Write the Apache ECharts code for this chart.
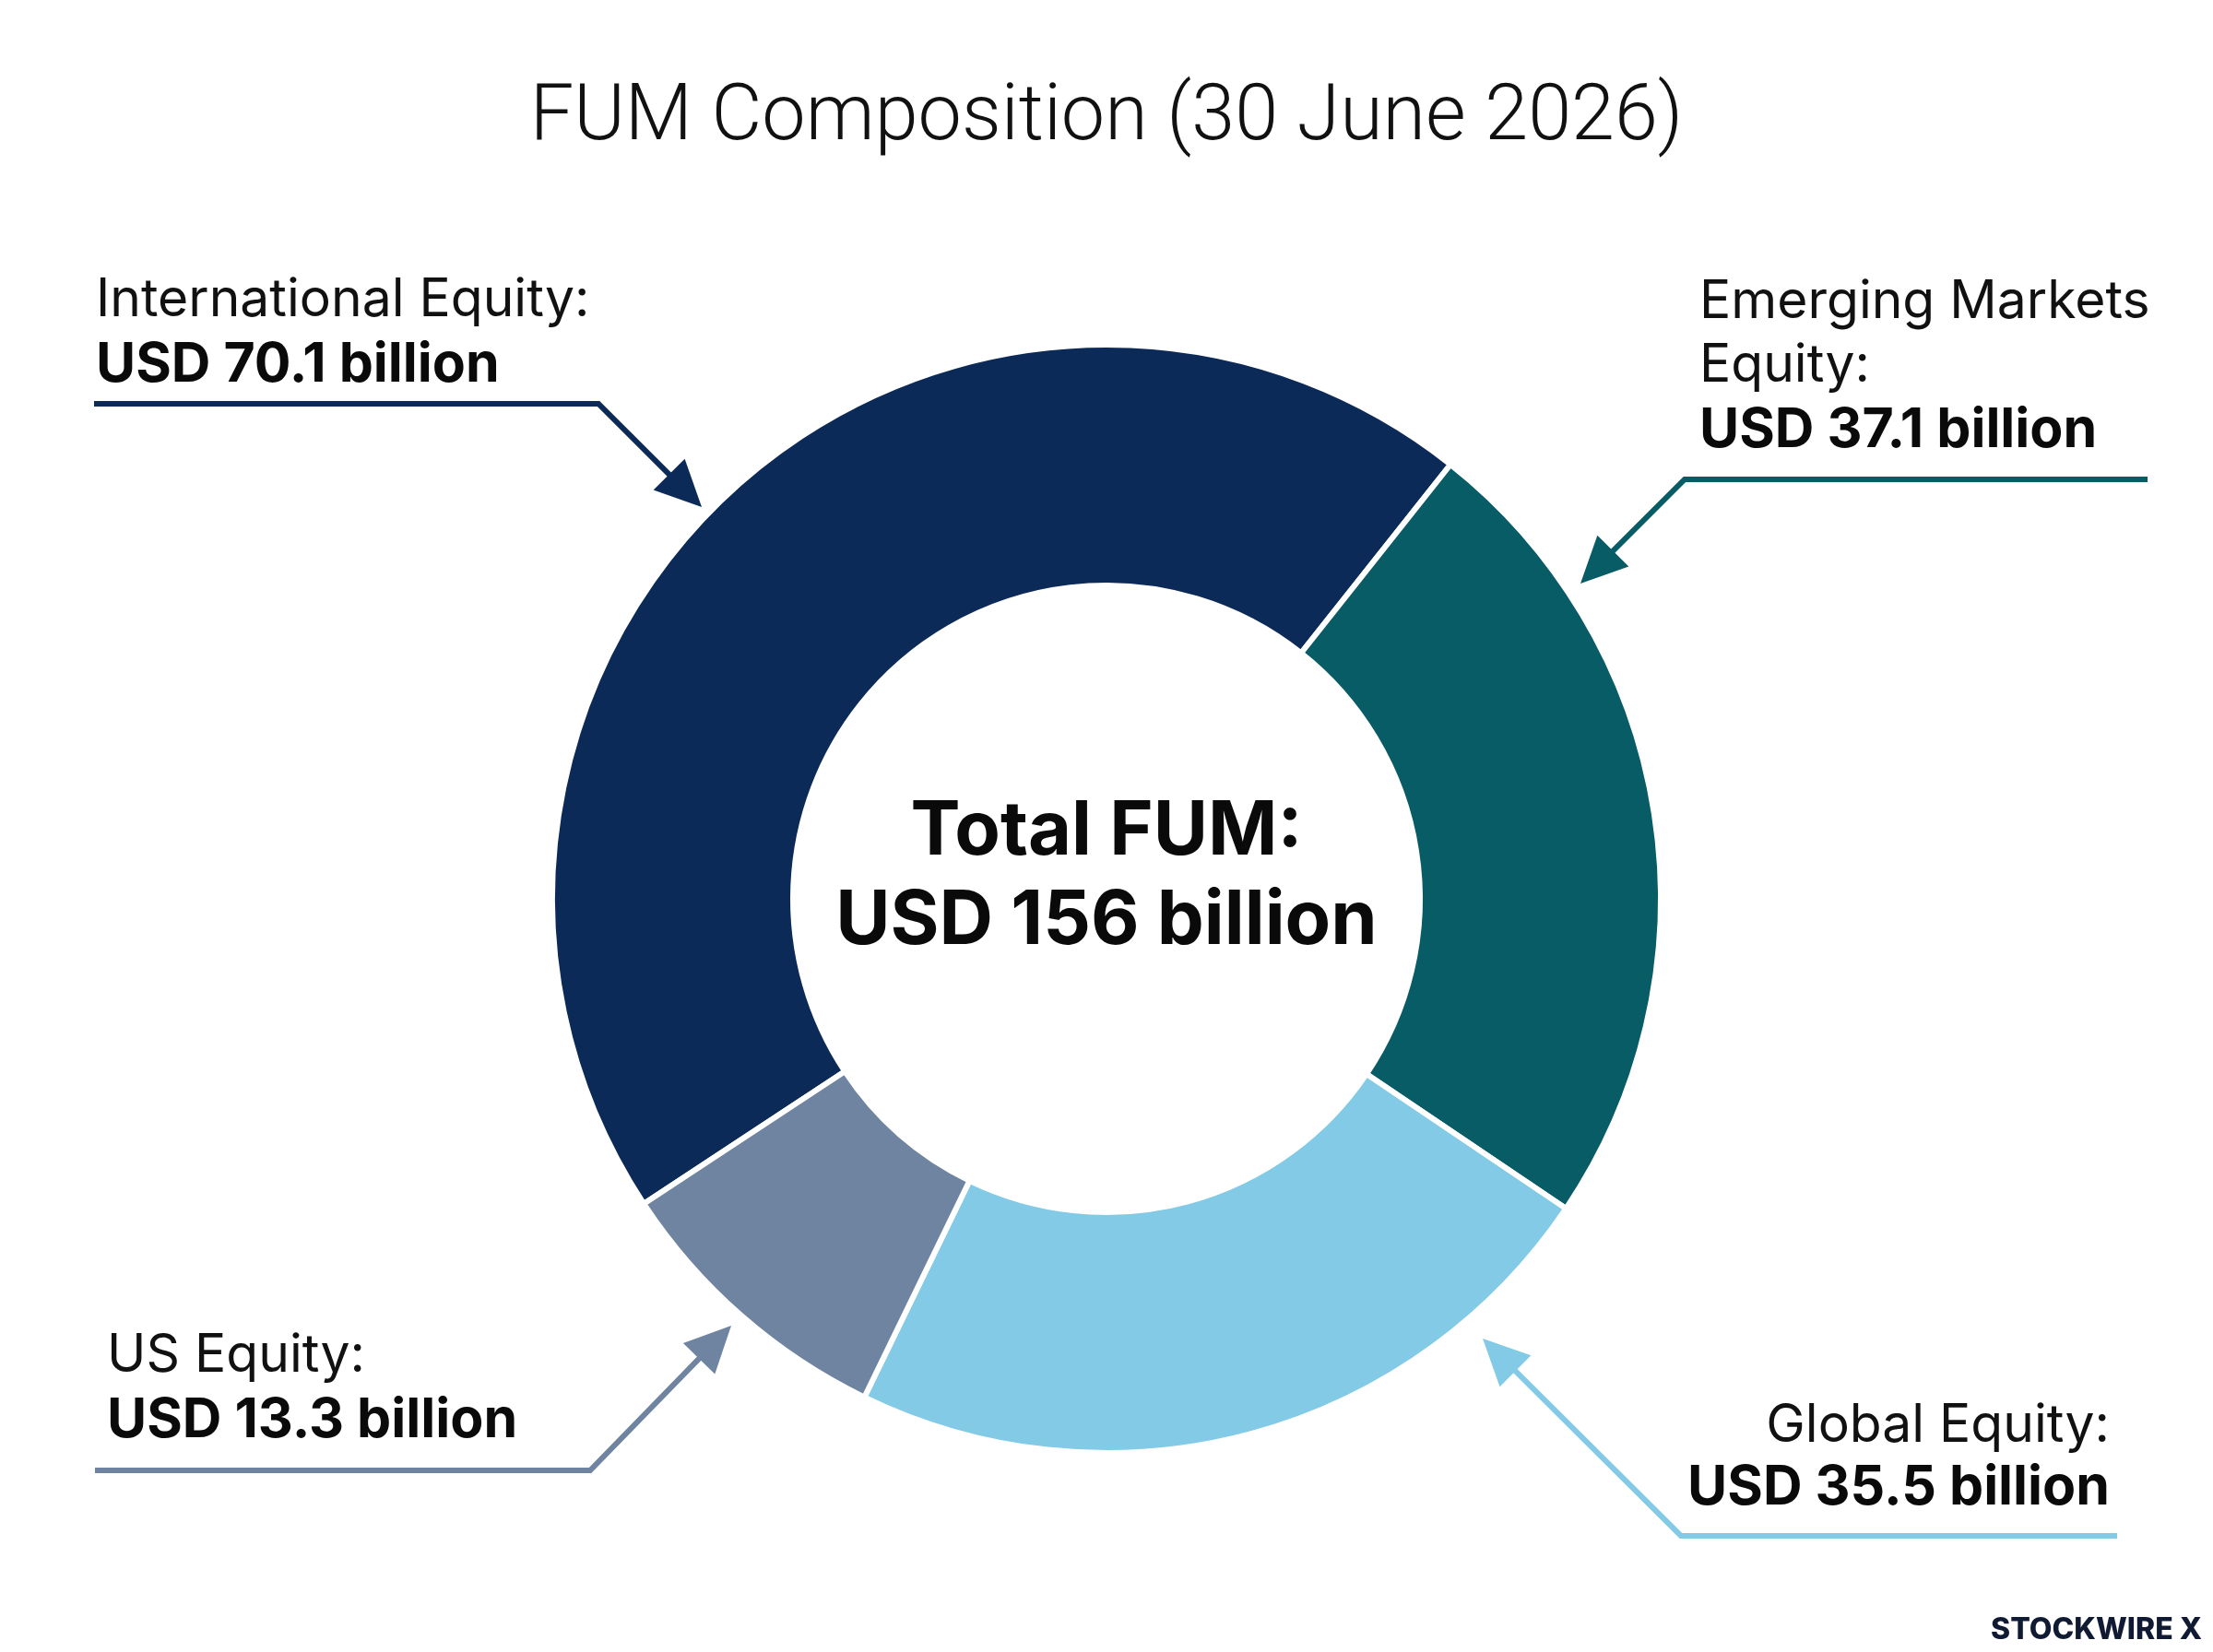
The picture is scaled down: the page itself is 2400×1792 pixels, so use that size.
<!DOCTYPE html>
<html>
<head>
<meta charset="utf-8">
<script src="https://cdn.jsdelivr.net/npm/echarts@6/dist/echarts.min.js"></script>
<style>
  html, body { margin: 0; padding: 0; background: #ffffff; }
  #chart { width: 2400px; height: 1792px; }
</style>
</head>
<body>
<div id="chart"></div>
<script>
// ---- Data ----
const categories = ['International Equity', 'Emerging Markets Equity', 'Global Equity', 'US Equity'];
const values = [70.1, 37.1, 35.5, 13.3];           // USD billion
const labelHeads = [['International Equity:'], ['Emerging Markets', 'Equity:'], ['Global Equity:'], ['US Equity:']];
const titleText = 'FUM Composition (30 June 2026)';
const watermark = 'STOCKWIRE X';

// ---- Styles ----
const colors = ['#0C2A58', '#085C66', '#82CAE6', '#6F84A0'];
const FONT = 'Inter, "Noto Sans", sans-serif';

const total = values.reduce((a, b) => a + b, 0);
const fmt = v => 'USD ' + v.toFixed(1) + ' billion';

// annotation layout (position of each callout)
const callouts = [
  { x: 104, align: 'left', ys: [326, 396], path: [[102, 438], [649, 438], [761, 550]] },
  { x: 1843, align: 'left', ys: [328, 397, 467], path: [[2329, 520], [1827, 520], [1714, 633]] },
  { x: 2288, align: 'right', ys: [1547, 1614], path: [[2296, 1666], [1823, 1666], [1608, 1452]] },
  { x: 116, align: 'left', ys: [1471, 1541], path: [[103, 1595], [640, 1595], [793, 1438]] }
];

const graphics = [];
callouts.forEach((c, i) => {
  const lines = labelHeads[i];
  lines.forEach((t, k) => {
    graphics.push({
      type: 'text', silent: true,
      style: { text: t, x: c.x, y: c.ys[k], font: '400 57px ' + FONT, fill: '#111111', textAlign: c.align, textVerticalAlign: 'middle' }
    });
  });
  graphics.push({
    type: 'text', silent: true,
    style: { text: fmt(values[i]), x: c.x, y: c.ys[lines.length], font: '700 59px ' + FONT, fill: '#0a0a0a', textAlign: c.align, textVerticalAlign: 'middle' }
  });
  // arrow
  const p = c.path;
  const tip = p[p.length - 1], prev = p[p.length - 2];
  const dx = tip[0] - prev[0], dy = tip[1] - prev[1];
  const len = Math.sqrt(dx * dx + dy * dy);
  const ux = dx / len, uy = dy / len;
  const headLen = 50, headHalf = 24;
  const bx = tip[0] - ux * headLen, by = tip[1] - uy * headLen;
  const pts = p.slice(0, -1).concat([[tip[0] - ux * (headLen - 4), tip[1] - uy * (headLen - 4)]]);
  graphics.push({
    type: 'polyline', silent: true,
    shape: { points: pts },
    style: { stroke: colors[i], lineWidth: 6, fill: null, lineJoin: 'miter' }
  });
  graphics.push({
    type: 'polygon', silent: true,
    shape: { points: [tip, [bx - uy * headHalf, by + ux * headHalf], [bx + uy * headHalf, by - ux * headHalf]] },
    style: { fill: colors[i] }
  });
});

// center text
graphics.push({
  type: 'text', silent: true,
  style: { text: 'Total FUM:', x: 1200, y: 903, font: '700 81px ' + FONT, fill: '#0a0a0a', textAlign: 'center', textVerticalAlign: 'middle' }
});
graphics.push({
  type: 'text', silent: true,
  style: { text: 'USD ' + Math.round(total) + ' billion', x: 1200, y: 1000, font: '700 81px ' + FONT, fill: '#0a0a0a', textAlign: 'center', textVerticalAlign: 'middle' }
});
// watermark
graphics.push({
  type: 'text', silent: true,
  style: { text: watermark, x: 2388, y: 1768, font: '800 32px ' + FONT, fill: '#111a33', textAlign: 'right', textVerticalAlign: 'middle' }
});

const chart = echarts.init(document.getElementById('chart'), null, { renderer: 'canvas' });
chart.setOption({
  backgroundColor: '#ffffff',
  animation: false,
  title: {
    text: titleText, left: 'center', top: 82,
    textStyle: { fontFamily: 'Roboto, Inter, sans-serif', fontWeight: 300, fontSize: 84.5, color: '#111111' }
  },
  series: [{
    type: 'pie',
    center: [1200, 975],
    radius: [340, 601],
    startAngle: 213.4,
    clockwise: true,
    silent: true,
    label: { show: false },
    labelLine: { show: false },
    itemStyle: { borderColor: '#ffffff', borderWidth: 6 },
    data: categories.map((c, i) => ({ name: c, value: values[i], itemStyle: { color: colors[i] } }))
  }],
  graphic: graphics
});
</script>
</body>
</html>
